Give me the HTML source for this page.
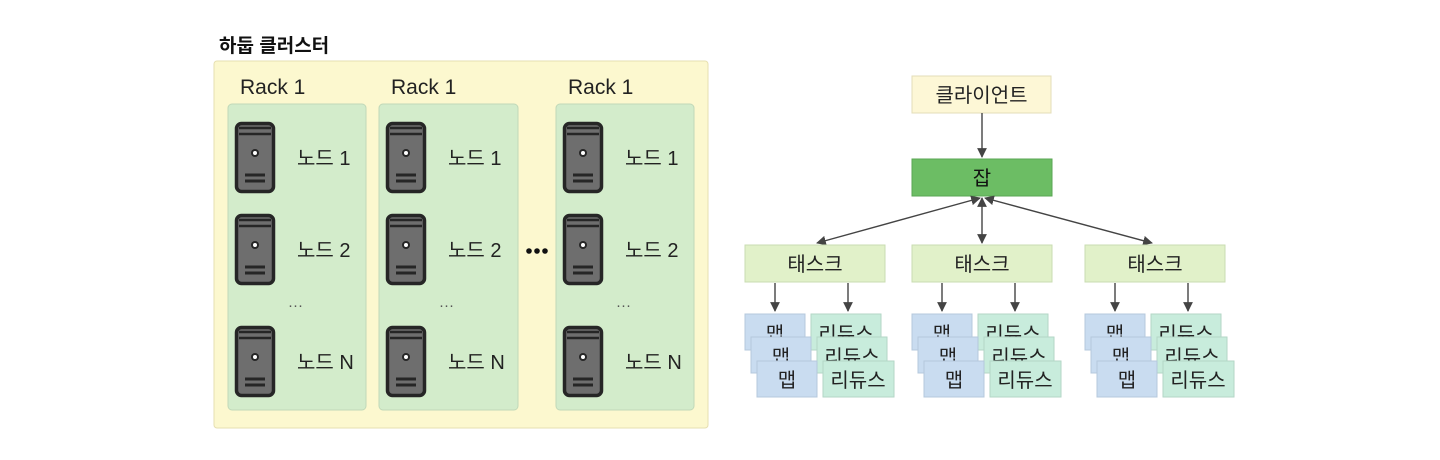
<!DOCTYPE html>
<html><head><meta charset="utf-8"><style>
html,body{margin:0;padding:0;background:#fff;}
svg text{font-family:"Liberation Sans","Noto Sans CJK KR",sans-serif;}
</style></head><body>
<svg width="1440" height="455" viewBox="0 0 1440 455" xmlns="http://www.w3.org/2000/svg">
<defs>
<g id="srv">
<rect x="1.5" y="1.5" width="37" height="68" rx="5" fill="#6e6e6e" stroke="#262626" stroke-width="3.5"/>
<line x1="4" y1="6" x2="36" y2="6" stroke="#262626" stroke-width="2.5"/>
<line x1="4" y1="12" x2="36" y2="12" stroke="#262626" stroke-width="2.5"/>
<circle cx="20" cy="31" r="4" fill="#262626"/>
<circle cx="20" cy="31" r="2" fill="#fff"/>
<line x1="10" y1="53" x2="30" y2="53" stroke="#262626" stroke-width="3"/>
<line x1="10" y1="59" x2="30" y2="59" stroke="#262626" stroke-width="3"/>
</g>
<marker id="ah" viewBox="0 0 10 10" refX="9" refY="5" markerWidth="7" markerHeight="7" orient="auto-start-reverse"><path d="M0,0 L10,5 L0,10 z" fill="#444"/></marker>
</defs>
<text x="219" y="52" font-size="19" font-weight="bold" fill="#111">하둡 클러스터</text>
<rect x="214" y="61" width="494" height="367" rx="3" fill="#fcf8cf" stroke="#e6dfb0"/>

<g font-size="21" fill="#222">
<text x="240" y="94">Rack 1</text>
<text x="391" y="94">Rack 1</text>
<text x="568" y="94">Rack 1</text>
</g>
<g fill="#d3eccb" stroke="#c0d8b8">
<rect x="228" y="104" width="138" height="306" rx="4"/>
<rect x="379" y="104" width="139" height="306" rx="4"/>
<rect x="556" y="104" width="138" height="306" rx="4"/>
</g>
<g>
<use href="#srv" x="235" y="122"/><use href="#srv" x="235" y="214"/><use href="#srv" x="235" y="326"/>
<use href="#srv" x="386" y="122"/><use href="#srv" x="386" y="214"/><use href="#srv" x="386" y="326"/>
<use href="#srv" x="563" y="122"/><use href="#srv" x="563" y="214"/><use href="#srv" x="563" y="326"/>
</g>
<g font-size="20" fill="#222">
<text x="297" y="165">노드 1</text><text x="297" y="257">노드 2</text><text x="297" y="369">노드 N</text>
<text x="448" y="165">노드 1</text><text x="448" y="257">노드 2</text><text x="448" y="369">노드 N</text>
<text x="625" y="165">노드 1</text><text x="625" y="257">노드 2</text><text x="625" y="369">노드 N</text>
</g>
<g fill="#555" font-size="15">
<text x="288" y="310">···</text><text x="439" y="310">···</text><text x="616" y="310">···</text>
</g>
<g fill="#111"><circle cx="529" cy="251" r="2.8"/><circle cx="537" cy="251" r="2.8"/><circle cx="545" cy="251" r="2.8"/></g>

<rect x="912" y="76" width="139" height="37" fill="#fdf7d6" stroke="#e3ddb8"/>
<text x="981.5" y="102" font-size="20" text-anchor="middle" fill="#222">클라이언트</text>
<rect x="912" y="159" width="140" height="37" fill="#6cbd64" stroke="#5aa653"/>
<text x="982" y="185" font-size="20" text-anchor="middle" fill="#111">잡</text>

<g stroke="#444" stroke-width="1.4" fill="none">
<line x1="982" y1="113" x2="982" y2="157" marker-end="url(#ah)"/>
<line x1="980" y1="198" x2="817" y2="243" marker-start="url(#ah)" marker-end="url(#ah)"/>
<line x1="982" y1="198" x2="982" y2="243" marker-start="url(#ah)" marker-end="url(#ah)"/>
<line x1="985" y1="198" x2="1152" y2="243" marker-start="url(#ah)" marker-end="url(#ah)"/>
</g>

<g id="grp1">
<rect x="745" y="245" width="140" height="37" fill="#e1f1c9" stroke="#c9dcb2"/>
<text x="815" y="271" font-size="20" text-anchor="middle" fill="#222">태스크</text>
<g stroke="#444" stroke-width="1.4"><line x1="775" y1="283" x2="775" y2="311" marker-end="url(#ah)"/><line x1="848" y1="283" x2="848" y2="311" marker-end="url(#ah)"/></g>
<g font-size="20" text-anchor="middle" fill="#222">
<rect x="745" y="314" width="60" height="36" fill="#c9dcf0" stroke="#b5c8dc"/><text x="775" y="341">맵</text>
<rect x="811" y="314" width="70" height="36" fill="#c8ecdc" stroke="#b3d6c6"/><text x="846" y="341">리듀스</text>
<rect x="751" y="337" width="60" height="36" fill="#c9dcf0" stroke="#b5c8dc"/><text x="781" y="364">맵</text>
<rect x="817" y="337" width="70" height="36" fill="#c8ecdc" stroke="#b3d6c6"/><text x="852" y="364">리듀스</text>
<rect x="757" y="361" width="60" height="36" fill="#c9dcf0" stroke="#b5c8dc"/><text x="787" y="387">맵</text>
<rect x="823" y="361" width="71" height="36" fill="#c8ecdc" stroke="#b3d6c6"/><text x="858" y="387">리듀스</text>
</g>
</g>
<use href="#grp1" x="167" y="0"/>
<use href="#grp1" x="340" y="0"/>
</svg>
</body></html>
